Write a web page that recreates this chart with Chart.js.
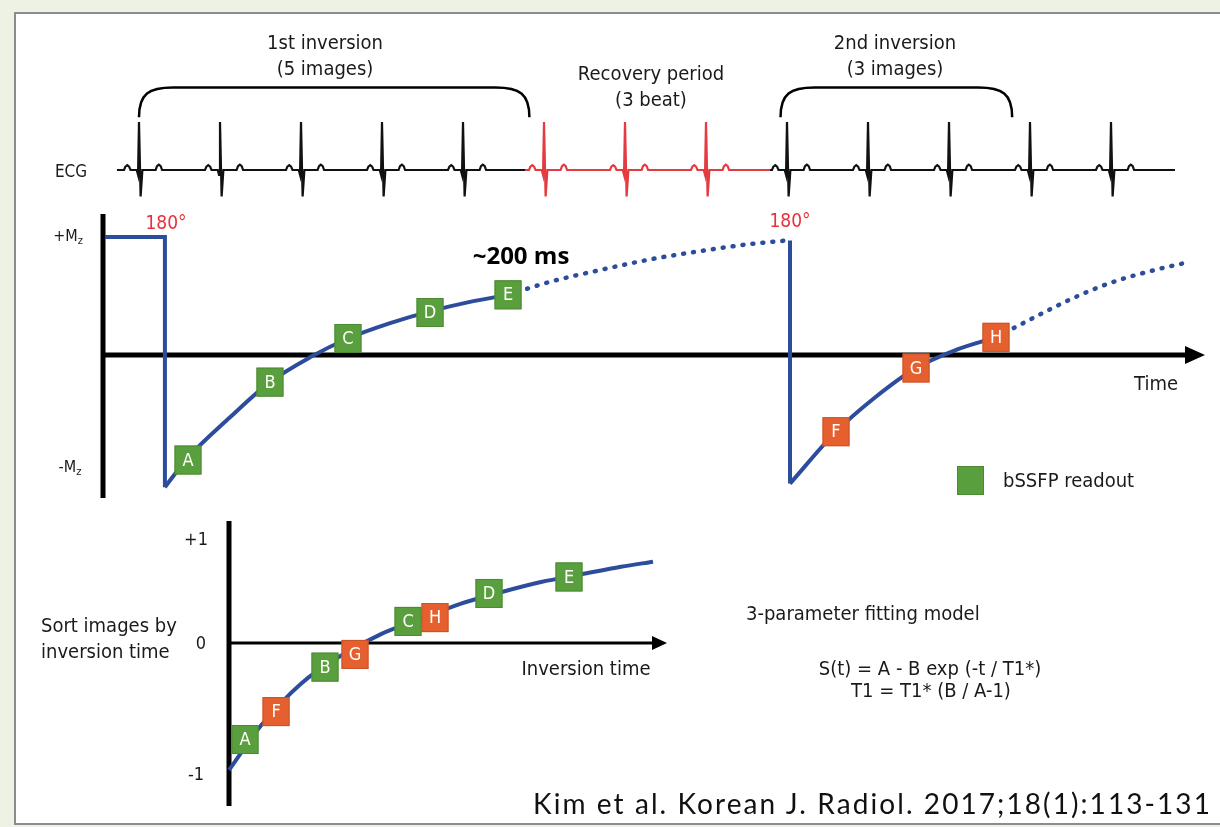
<!DOCTYPE html>
<html>
<head>
<meta charset="utf-8">
<script src="https://cdn.jsdelivr.net/npm/chart.js@4.4.1/dist/chart.umd.min.js"></script>
<style>
html, body { margin: 0; padding: 0; }
body {
  width: 1220px; height: 827px; position: relative; overflow: hidden;
  background: #eef2e4;
  font-family: "DejaVu Sans Condensed", "DejaVu Sans", sans-serif;
  font-stretch: condensed; color: #1a1a1a;
}
#panel { position: absolute; left: 14px; top: 12px; width: 1220px; height: 809px; background: #fff; border: 2px solid #8c8c8c; }
#c { position: absolute; left: 0; top: 0; }
.t { position: absolute; white-space: nowrap; font-size: 20px; line-height: 1; }
.t sub { font-size: 11px; vertical-align: -3px; }
#legendBox { position: absolute; left: 957px; top: 466px; width: 27px; height: 29px; background: #5a9f3d; box-sizing: border-box; border: 1px solid #4b8a33; }
</style>
</head>
<body>
<div id="panel"></div>
<canvas id="c" width="1220" height="827"></canvas>
<div id="legendBox"></div>
<div id="labels"></div>
<script>
const W = 1220, H = 827;

// ECG: R-peak times in ms (one RR interval = 1000 ms) and the shape of one beat
const rPeakTimes = [0, 1000, 2000, 3000, 4000, 5000, 6000, 7000, 8000, 9000, 10000, 11000, 12000];
const beatOffsets = [-185, -168, -145, -122, -105, -28, -12, 0, 20, 42, 205, 222, 245, 268, 285];
const beatVolts = [0, 0.07, 0.1, 0.07, 0, 0, -0.1, 1, -0.55, 0, 0, 0.08, 0.11, 0.08, 0];
// black / red (recovery) / black stretches of the trace
const ecgFrom = [-272, 4765, 7790];
const ecgTo = [4765, 7790, 12790];
// brackets over the acquired beats
const bracketFrom = [0, 7920];
const bracketTo = [4820, 10780];

// longitudinal magnetization (+Mz = 1)
const pulse1T = [-420, 320, 320];
const pulse1Mz = [1, 1, -1.12];
const recov1T = [320, 605, 1120, 1617, 2110, 2580, 3100, 3593, 4086, 4556];
const recov1Mz = [-1.12, -0.87, -0.53, -0.23, -0.02, 0.14, 0.27, 0.37, 0.45, 0.51];
const tail1T = [4556, 5074, 5691, 6309, 6926, 7543, 7990];
const tail1Mz = [0.51, 0.62, 0.72, 0.81, 0.88, 0.94, 0.97];
const pulse2T = [8037, 8037];
const pulse2Mz = [0.97, -1.09];
const recov2T = [8037, 8605, 9086, 9593, 10074, 10580];
const recov2Mz = [-1.09, -0.65, -0.36, -0.11, 0.04, 0.15];
const tail2T = [10580, 11000, 11494, 11988, 12481, 12975];
const tail2Mz = [0.15, 0.30, 0.47, 0.61, 0.71, 0.79];

// bSSFP readouts
const readoutNames = ['A', 'B', 'C', 'D', 'E', 'F', 'G', 'H'];
const readoutT = [605, 1617, 2580, 3593, 4556, 8605, 9593, 10580];
const readoutMz = [-0.89, -0.23, 0.14, 0.36, 0.51, -0.65, -0.11, 0.15];
const firstInversion = ['A', 'B', 'C', 'D', 'E'];

// images sorted by inversion time
const sortedNames = ['A', 'F', 'B', 'G', 'C', 'H', 'D', 'E'];
const sortedTI = [200, 588, 1200, 1575, 2238, 2575, 3250, 4250];
const sortedS = [-0.76, -0.54, -0.19, -0.09, 0.17, 0.2, 0.39, 0.52];
const fitTI = [0, 400, 900, 1400, 1900, 2400, 2900, 3400, 3900, 4400, 4900, 5300];
const fitS = [-1.0, -0.65, -0.32, -0.1, 0.07, 0.19, 0.31, 0.4, 0.48, 0.54, 0.6, 0.64];

const BLUE = '#2c4c9c', GREEN = '#5a9f3d', ORANGE = '#e5602e';

const pts = (xs, ys) => xs.map((x, i) => ({ x, y: ys[i] }));

function ecgTrace(from, to) {
  const out = [{ x: from, y: 0 }];
  rPeakTimes.filter(r => r > from && r < to).forEach(r => {
    beatOffsets.forEach((o, i) => out.push({ x: r + o, y: beatVolts[i] }));
  });
  out.push({ x: to, y: 0 });
  return out;
}

// hidden scales stretched over the whole canvas, anchored at a pixel origin
const spanX = (px0, k) => ({ min: -px0 / k, max: (W - px0) / k });
const spanY = (py0, k) => ({ min: (py0 - H) / k, max: py0 / k });

const ecgColors = ['#111', '#e43a40', '#111'];
const ecgSets = ecgFrom.map((f, i) => ({
  data: ecgTrace(f, ecgTo[i]), xAxisID: 'xT', yAxisID: 'yE',
  borderColor: ecgColors[i], borderWidth: 2.2, tension: 0
}));

const blue = { borderColor: BLUE, borderWidth: 4, xAxisID: 'xT', yAxisID: 'yT' };
const dotted = { borderDash: [1, 9], borderCapStyle: 'round', borderWidth: 4.5 };

function boxAt(ctx, x, y, name, color) {
  const w = 27, h = 29;
  ctx.fillStyle = color;
  ctx.fillRect(x - w / 2, y - h / 2, w, h);
  ctx.strokeStyle = color === GREEN ? '#4b8a33' : '#c9532a';
  ctx.lineWidth = 1;
  ctx.strokeRect(x - w / 2 + 0.5, y - h / 2 + 0.5, w - 1, h - 1);
  ctx.fillStyle = '#fff';
  ctx.font = '18px "DejaVu Sans Condensed", "DejaVu Sans", sans-serif';
  ctx.textAlign = 'center';
  ctx.textBaseline = 'middle';
  ctx.fillText(name, x, y + 1);
}

function arrow(ctx, x, y, len, half) {
  ctx.beginPath();
  ctx.moveTo(x, y);
  ctx.lineTo(x - len, y - half);
  ctx.lineTo(x - len, y + half);
  ctx.closePath();
  ctx.fill();
}

const diagram = {
  id: 'diagram',
  beforeDatasetsDraw(chart) {
    const { ctx } = chart;
    const { xT, yE, yT, yB } = chart.scales;
    ctx.save();
    ctx.strokeStyle = '#000';
    ctx.fillStyle = '#000';
    ctx.lineCap = 'butt';
    // top plot axes
    const y0 = yT.getPixelForValue(0);
    ctx.lineWidth = 5;
    ctx.beginPath(); ctx.moveTo(103, 214); ctx.lineTo(103, 498); ctx.stroke();
    ctx.beginPath(); ctx.moveTo(101, y0); ctx.lineTo(1188, y0); ctx.stroke();
    arrow(ctx, 1205, y0, 20, 9);
    // bottom plot axes
    const b0 = yB.getPixelForValue(0);
    ctx.lineWidth = 5;
    ctx.beginPath(); ctx.moveTo(229, 521); ctx.lineTo(229, 806); ctx.stroke();
    ctx.lineWidth = 3;
    ctx.beginPath(); ctx.moveTo(229, b0); ctx.lineTo(654, b0); ctx.stroke();
    arrow(ctx, 667, b0, 15, 7);
    // brackets
    ctx.lineWidth = 2.5;
    const top = yE.getPixelForValue(1.72), foot = yE.getPixelForValue(1.1);
    bracketFrom.forEach((f, i) => {
      const a = xT.getPixelForValue(f), b = xT.getPixelForValue(bracketTo[i]);
      ctx.beginPath();
      ctx.moveTo(a, foot);
      ctx.bezierCurveTo(a, top + 6, a + 10, top, a + 34, top);
      ctx.lineTo(b - 34, top);
      ctx.bezierCurveTo(b - 10, top, b, top + 6, b, foot);
      ctx.stroke();
    });
    ctx.restore();
  },
  afterDatasetsDraw(chart) {
    const { ctx } = chart;
    ctx.save();
    chart.getDatasetMeta(chart.data.datasets.length - 2).data.forEach((p, i) => {
      const n = readoutNames[i];
      boxAt(ctx, p.x, p.y, n, firstInversion.includes(n) ? GREEN : ORANGE);
    });
    chart.getDatasetMeta(chart.data.datasets.length - 1).data.forEach((p, i) => {
      const n = sortedNames[i];
      boxAt(ctx, p.x, p.y, n, firstInversion.includes(n) ? GREEN : ORANGE);
    });
    ctx.restore();
  }
};

new Chart(document.getElementById('c'), {
  type: 'scatter',
  data: {
    datasets: [
      ...ecgSets,
      { ...blue, data: pts(pulse1T, pulse1Mz), tension: 0 },
      { ...blue, data: pts(recov1T, recov1Mz), cubicInterpolationMode: 'monotone' },
      { ...blue, ...dotted, data: pts(tail1T, tail1Mz), cubicInterpolationMode: 'monotone' },
      { ...blue, data: pts(pulse2T, pulse2Mz), tension: 0 },
      { ...blue, data: pts(recov2T, recov2Mz), cubicInterpolationMode: 'monotone' },
      { ...blue, ...dotted, data: pts(tail2T, tail2Mz), cubicInterpolationMode: 'monotone' },
      { data: pts(fitTI, fitS), xAxisID: 'xB', yAxisID: 'yB', borderColor: BLUE, borderWidth: 4, cubicInterpolationMode: 'monotone' },
      { data: pts(readoutT, readoutMz), xAxisID: 'xT', yAxisID: 'yT', showLine: false },
      { data: pts(sortedTI, sortedS), xAxisID: 'xB', yAxisID: 'yB', showLine: false }
    ].map(d => ({ showLine: true, pointRadius: 0, pointHitRadius: 0, ...d }))
  },
  options: {
    responsive: false,
    animation: false,
    devicePixelRatio: 1,
    events: [],
    layout: { padding: 0, autoPadding: false },
    plugins: { legend: { display: false }, tooltip: { enabled: false } },
    scales: {
      xT: { type: 'linear', display: false, ...spanX(139, 0.081) },
      yE: { type: 'linear', display: false, ...spanY(170, 48) },
      yT: { type: 'linear', display: false, ...spanY(355, 118) },
      xB: { type: 'linear', display: false, ...spanX(229, 0.08) },
      yB: { type: 'linear', display: false, ...spanY(643, 127) }
    }
  },
  plugins: [diagram]
});

// text labels: [html, x, y, align, extra css, fitted width]
const labels = [
  ['1st inversion', 325, 42, 'c'],
  ['(5 images)', 325, 68, 'c'],
  ['Recovery period', 651, 73, 'c'],
  ['(3 beat)', 651, 99, 'c'],
  ['2nd inversion', 895, 42, 'c'],
  ['(3 images)', 895, 68, 'c'],
  ['ECG', 71, 171, 'c', 'font-size:17px'],
  ['+M<sub>z</sub>', 68, 237, 'c', 'font-size:16px'],
  ['-M<sub>z</sub>', 70, 468, 'c', 'font-size:16px'],
  ['180°', 166, 222, 'c', 'color:#e8303a;font-size:19px'],
  ['180°', 790, 220, 'c', 'color:#e8303a;font-size:19px'],
  ['~200 ms', 521, 255, 'c', 'font-family:"Open Sans",sans-serif;font-weight:700;font-stretch:normal;font-size:24px;color:#000'],
  ['Time', 1156, 383, 'c'],
  ['bSSFP readout', 1003, 480, 'l'],
  ['+1', 196, 539, 'c', 'font-size:18px'],
  ['0', 201, 643, 'c', 'font-size:18px'],
  ['-1', 196, 774, 'c', 'font-size:18px'],
  ['Sort images by', 41, 625, 'l'],
  ['inversion time', 41, 651, 'l'],
  ['Inversion time', 586, 668, 'c'],
  ['3-parameter fitting model', 746, 613, 'l'],
  ['S(t) = A - B exp (-t / T1*)', 930, 668, 'c'],
  ['T1 = T1* (B / A-1)', 931, 690, 'c'],
  ['Kim et al. Korean J. Radiol. 2017;18(1):113-131', 1212, 803, 'r', 'font-family:Lato,sans-serif;font-stretch:normal;font-size:28px;color:#111', 679]
];
const shift = { c: 'translate(-50%,-50%)', l: 'translate(0,-50%)', r: 'translate(-100%,-50%)' };
const holder = document.getElementById('labels');
labels.forEach(([html, x, y, al, css, fitW]) => {
  const d = document.createElement('div');
  d.className = 't';
  d.innerHTML = html;
  d.style.cssText = `left:${x}px;top:${y}px;transform:${shift[al]};${css || ''}`;
  holder.appendChild(d);
  if (fitW) {
    const n = d.textContent.length;
    d.style.letterSpacing = ((fitW - d.getBoundingClientRect().width) / n) + 'px';
  }
});
</script>
</body>
</html>
